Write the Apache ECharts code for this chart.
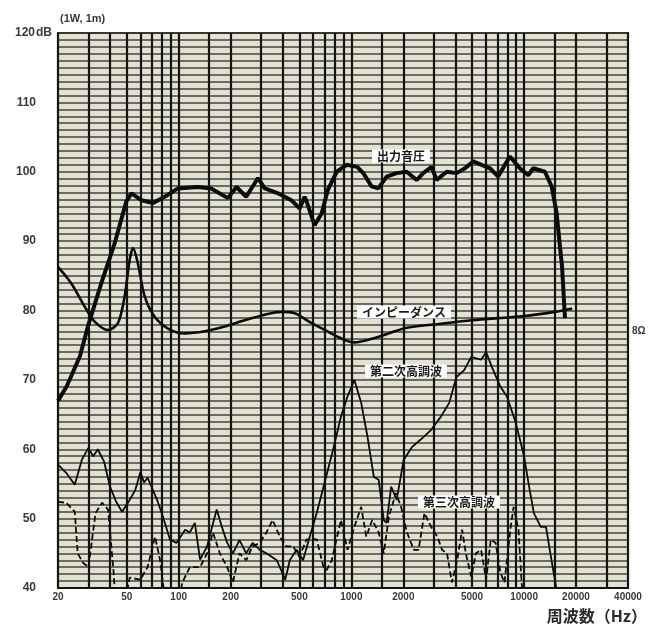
<!DOCTYPE html>
<html>
<head>
<meta charset="utf-8">
<script src="https://cdn.jsdelivr.net/npm/echarts@6/dist/echarts.min.js"></script>
<style>
html,body{margin:0;padding:0;background:#ffffff;}
#chart{width:648px;height:628px;}
</style>
</head>
<body>
<div id="chart"></div>
<script>
// ---- data ----
const splFreq = [20, 22.4, 26.8, 29.8, 35.6, 42.6, 49.7, 53.3, 60.7, 71, 83, 99, 129, 154, 193, 216, 246, 288, 315, 376, 449, 502, 536, 551, 612, 673, 731, 822, 939, 1080, 1172, 1310, 1432, 1601, 1829, 2090, 2388, 2608, 2915, 3117, 3564, 4073, 4550, 5085, 5680, 6347, 7090, 7750, 8280, 9460, 10570, 11300, 13210, 14450, 15450, 16000, 16600, 17260];
const splDb   = [67, 69, 73.4, 77.7, 83.9, 89.7, 95.7, 96.9, 95.9, 95.5, 96.4, 97.6, 97.8, 97.6, 96.2, 97.8, 96.4, 99.1, 97.6, 96.9, 95.9, 94.7, 96.4, 95.7, 92.3, 94, 97.4, 100, 101, 100.7, 99.8, 97.9, 97.6, 99.3, 99.8, 100, 98.8, 99.8, 100.7, 98.8, 100, 99.8, 100.5, 101.5, 101, 100.5, 99.3, 101, 102.2, 100.5, 99.5, 100.5, 100, 97.9, 94, 90.2, 86.3, 78.9];

const impFreq = [20, 23.9, 28.5, 32.6, 39, 44.5, 48.6, 52, 54.4, 58, 63.6, 72.6, 86.7, 108, 141.5, 184.6, 241, 315, 393, 470, 586, 700, 850, 1040, 1350, 2100, 3300, 5000, 10000, 15000, 19000];
const impDb   = [86.3, 83.9, 80.6, 78.4, 77.2, 78.2, 82, 87.3, 89, 86.8, 82, 79.1, 77.4, 76.7, 77, 77.7, 78.6, 79.4, 79.8, 79.6, 78.2, 77.2, 76.1, 75.4, 76, 77.5, 78.1, 78.6, 79.2, 79.8, 80.3];

const h2Freq = [20, 22.3, 25, 27.5, 30, 32, 34, 37, 40, 43.5, 47, 52, 56, 60, 63, 66, 75, 81, 89, 97, 109, 116, 124, 133, 146, 156, 166, 178, 191, 206, 225, 246, 268, 295, 322, 370, 414, 440, 482, 525, 574, 630, 690, 790, 870, 950, 1040, 1140, 1240, 1350, 1440, 1540, 1600, 1700, 1830, 2010, 2240, 2520, 2900, 3300, 3690, 4060, 4500, 4950, 5640, 6030, 6500, 7300, 7960, 8960, 10000, 10700, 11400, 12500, 13400, 14200, 15200, 15600];
const h2Db   = [57.8, 56.6, 54.9, 58.5, 60.2, 59, 60, 58.2, 54.6, 52.4, 51, 52.7, 54.1, 56.7, 55.2, 55.9, 52.7, 50.3, 47, 46.5, 48.4, 48, 49.4, 44.1, 46, 48.8, 51.3, 48.8, 46.5, 45, 46.9, 45, 46.5, 45.5, 45, 44, 41.2, 44, 45.5, 44, 47.4, 50.8, 54.6, 60.3, 64.7, 67.6, 70, 66.7, 61.8, 56, 55.6, 49.8, 49.4, 54.6, 52.7, 58.5, 60.3, 61.4, 62.8, 64.7, 66.7, 70.4, 71.4, 73.3, 72.9, 74, 71.9, 69, 67.6, 63.8, 59, 54.6, 50.8, 48.8, 48.8, 45, 40.7, 39];

const h3Freq = [20, 22.3, 25, 26, 28, 30, 33, 36, 39, 42, 43, 49, 52, 60, 66, 73, 78, 81, 84, 100, 105, 116, 133, 146, 158, 173, 191, 206, 225, 246, 268, 295, 322, 350, 385, 420, 460, 500, 550, 630, 690, 720, 770, 870, 950, 1040, 1140, 1220, 1320, 1440, 1540, 1650, 1810, 1940, 2100, 2300, 2450, 2650, 2900, 3150, 3350, 3580, 3820, 4100, 4380, 4600, 4950, 5260, 5640, 6030, 6420, 6850, 7300, 7700, 8370, 8700, 9290, 9680, 9900];
const h3Db   = [52.4, 52.3, 51, 45, 43.6, 43, 50.8, 52.3, 51.3, 42.2, 38, 38, 41.5, 41.2, 43, 47.4, 44, 40.8, 38, 38, 40.8, 43, 43, 45, 48, 45, 43, 40.8, 45, 44, 46, 46.5, 48, 49.8, 47.4, 46, 46, 44.5, 47, 47, 43, 42.6, 44, 49.8, 45.5, 48.8, 51.7, 47.4, 49.8, 48, 45, 50.3, 53.7, 51.7, 48, 45.5, 45.5, 50.8, 48.8, 47.4, 45.5, 45, 40.8, 44, 48.4, 45, 41.6, 45, 45.5, 41.2, 47, 46.5, 42.2, 40.8, 48.8, 51.7, 48.4, 40.8, 38];

// tick / grid values
const xLabelFreqs = [20, 50, 100, 200, 500, 1000, 2000, 5000, 10000, 20000, 40000];
const xGridFreqs = [20, 30, 40, 50, 60, 70, 80, 90, 100, 150, 200, 300, 400, 500, 600, 700, 800, 900, 1000, 1500, 2000, 3000, 4000, 5000, 6000, 7000, 8000, 9000, 10000, 15000, 20000, 30000, 40000];
const yLabelValues = [40, 50, 60, 70, 80, 90, 100, 110, 120];

// ---- build ----
const pairs = (xs, ys) => xs.map((x, i) => [x, ys[i]]);
const lg = v => Math.log10(v);

const chart = echarts.init(document.getElementById('chart'));
const baseFont = 'Liberation Sans, DejaVu Sans, sans-serif';
const jpFont = 'Noto Sans CJK JP, sans-serif';

const jpLabel = (text, x, y) => ({
  type: 'text', x: x, y: y, z: 100,
  style: {
    text: text, font: 'bold 12px ' + jpFont, fill: '#1a1a1a',
    backgroundColor: '#ffffff', padding: [1, 5, 0, 5],
    align: 'center', verticalAlign: 'middle'
  }
});

chart.setOption({
  animation: false,
  backgroundColor: '#ffffff',
  grid: {
    left: 58, right: 20, top: 33, bottom: 40,
    show: true, backgroundColor: '#e3e2d2', borderColor: '#111111', borderWidth: 2
  },
  xAxis: [
    { type: 'log', logBase: 10, min: 20, max: 40000, show: false, gridIndex: 0 },
    {
      type: 'value', gridIndex: 0, position: 'bottom',
      min: lg(20), max: lg(40000),
      axisLine: { show: true, lineStyle: { color: '#111', width: 2 } },
      axisTick: { show: false, customValues: xGridFreqs.map(lg) },
      splitLine: { show: true, lineStyle: { color: '#141414', width: 2.2 } },
      axisLabel: {
        customValues: xLabelFreqs.map(lg),
        margin: 4, fontSize: 10, color: '#3a3a3a', fontFamily: baseFont, fontWeight: 'bold',
        formatter: v => {
          const f = xLabelFreqs.find(q => Math.abs(lg(q) - v) < 1e-6);
          return f === undefined ? '' : String(f);
        }
      }
    }
  ],
  yAxis: {
    type: 'value', min: 40, max: 120, interval: 1,
    axisLine: { show: false }, axisTick: { show: false },
    splitLine: { show: true, lineStyle: { color: '#45453a', width: 1.5 } },
    axisLabel: {
      customValues: yLabelValues,
      align: 'left', margin: 44, fontFamily: baseFont, fontSize: 12, color: '#3a3a3a', fontWeight: 'bold',
      formatter: v => '{n|' + v + '}' + (v === 120 ? '{u|dB}' : ''),
      rich: {
        n: { width: 22, align: 'right', fontSize: 12, fontWeight: 'bold', color: '#3a3a3a', fontFamily: baseFont },
        u: { fontSize: 12, fontWeight: 'bold', color: '#3a3a3a', fontFamily: baseFont }
      }
    }
  },
  series: [
    {
      name: '出力音圧', type: 'line', xAxisIndex: 0, data: pairs(splFreq, splDb),
      showSymbol: false, lineStyle: { color: '#0a0a0a', width: 4 }, z: 5
    },
    {
      name: 'インピーダンス', type: 'line', xAxisIndex: 0, data: pairs(impFreq, impDb),
      showSymbol: false, smooth: 0.3, lineStyle: { color: '#0a0a0a', width: 2.6 }, z: 4
    },
    {
      name: '第二次高調波', type: 'line', xAxisIndex: 0, data: pairs(h2Freq, h2Db),
      showSymbol: false, lineStyle: { color: '#0a0a0a', width: 1.8 }, z: 4
    },
    {
      name: '第三次高調波', type: 'line', xAxisIndex: 0, data: pairs(h3Freq, h3Db),
      showSymbol: false, lineStyle: { color: '#0a0a0a', width: 1.8, type: [6, 3] }, z: 4
    }
  ],
  graphic: [
    { type: 'text', x: 60, y: 13, style: { text: '(1W, 1m)', font: 'bold 11px ' + baseFont, fill: '#3a3a3a' } },
    { type: 'text', x: 632, y: 331, style: { text: '8Ω', font: 'bold 10px ' + baseFont, fill: '#3a3a3a', verticalAlign: 'middle' } },
    { type: 'text', x: 647, y: 616, style: { text: '周波数（Hz）', font: 'bold 16px ' + jpFont, fill: '#2a2a2a', align: 'right', verticalAlign: 'middle' } },
    jpLabel('出力音圧', 401, 156),
    jpLabel('インピーダンス', 404, 312),
    jpLabel('第二次高調波', 406, 371),
    jpLabel('第三次高調波', 459, 502)
  ]
});
</script>
</body>
</html>
